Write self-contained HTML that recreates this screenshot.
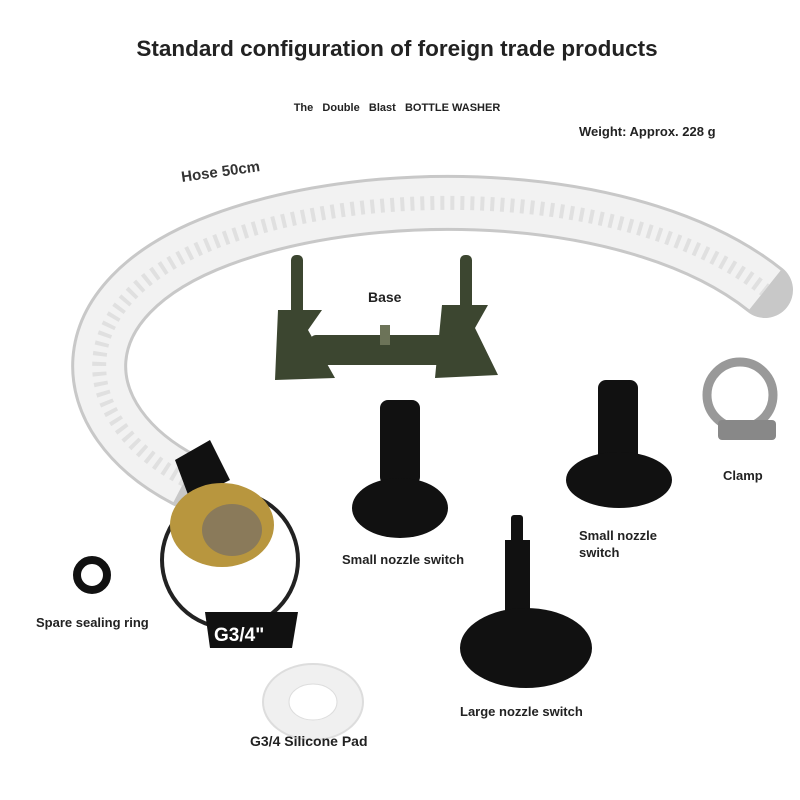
<!DOCTYPE html>
<html><head><style>html,body{margin:0;padding:0;background:#fff}svg{display:block}</style></head><body>
<svg width="800" height="800" viewBox="0 0 800 800" xmlns="http://www.w3.org/2000/svg" font-family="Liberation Sans, sans-serif">
<rect width="800" height="800" fill="#fff"/>
<text x="397" y="56" text-anchor="middle" font-size="22.5" font-weight="bold" fill="#222">Standard configuration of foreign trade products</text>
<text x="397" y="111" text-anchor="middle" font-size="11" font-weight="bold" fill="#222" xml:space="preserve">The   Double   Blast   BOTTLE WASHER</text>
<text x="579" y="136" font-size="13" font-weight="bold" fill="#222">Weight: Approx. 228 g</text>
<text x="182" y="182" font-size="15" font-weight="bold" fill="#333" transform="rotate(-8 182 182)">Hose 50cm</text>
<!-- hose -->
<path d="M185 480 C 70 420, 60 300, 220 240 C 380 180, 640 190, 765 290" fill="none" stroke="#c8c8c8" stroke-width="56" stroke-linecap="round"/>
<path d="M185 480 C 70 420, 60 300, 220 240 C 380 180, 640 190, 765 290" fill="none" stroke="#f2f2f2" stroke-width="50"/>
<path d="M185 480 C 70 420, 60 300, 220 240 C 380 180, 640 190, 765 290" fill="none" stroke="#e0e0e0" stroke-width="14" stroke-dasharray="4 6"/>
<!-- base -->
<g fill="#3c4630">
<rect x="291" y="255" width="12" height="60" rx="5"/>
<rect x="460" y="255" width="12" height="60" rx="5"/>
<path d="M278 310 L322 310 L308 330 L335 378 L275 380 Z"/>
<path d="M442 305 L488 305 L475 328 L498 375 L435 378 Z"/>
<rect x="310" y="335" width="145" height="30" rx="6"/>
<rect x="380" y="325" width="10" height="20" fill="#6c7358"/>
</g>
<text x="368" y="302" font-size="14" font-weight="bold" fill="#222">Base</text>
<!-- clamp -->
<ellipse cx="740" cy="395" rx="33" ry="33" fill="none" stroke="#999" stroke-width="9"/>
<rect x="718" y="420" width="58" height="20" rx="4" fill="#888"/>
<text x="723" y="480" font-size="13" font-weight="bold" fill="#222">Clamp</text>
<!-- small nozzle 1 -->
<g fill="#111">
<rect x="380" y="400" width="40" height="85" rx="8"/>
<ellipse cx="400" cy="508" rx="48" ry="30"/>
</g>
<text x="342" y="564" font-size="13" font-weight="bold" fill="#222">Small nozzle switch</text>
<!-- small nozzle 2 -->
<g fill="#111">
<rect x="598" y="380" width="40" height="85" rx="8"/>
<ellipse cx="619" cy="480" rx="53" ry="28"/>
</g>
<text x="579" y="540" font-size="13" font-weight="bold" fill="#222">Small nozzle</text>
<text x="579" y="557" font-size="13" font-weight="bold" fill="#222">switch</text>
<!-- large nozzle -->
<g fill="#111">
<rect x="511" y="515" width="12" height="30" rx="3"/>
<rect x="505" y="540" width="25" height="80"/>
<ellipse cx="526" cy="648" rx="66" ry="40"/>
</g>
<text x="460" y="716" font-size="13" font-weight="bold" fill="#222">Large nozzle switch</text>
<!-- fitting -->
<path d="M175 460 L210 440 L230 480 L190 500 Z" fill="#111"/>
<circle cx="230" cy="560" r="68" fill="#fff" stroke="#222" stroke-width="4"/>
<ellipse cx="222" cy="525" rx="52" ry="42" fill="#b8963e"/>
<ellipse cx="232" cy="530" rx="30" ry="26" fill="#8a7a5a"/>
<path d="M205 612 L298 612 L292 648 L210 648 Z" fill="#111"/>
<text x="214" y="641" font-size="19" font-weight="bold" fill="#fff">G3/4"</text>
<!-- o-ring -->
<circle cx="92" cy="575" r="15" fill="none" stroke="#111" stroke-width="8"/>
<text x="36" y="627" font-size="13" font-weight="bold" fill="#222">Spare sealing ring</text>
<!-- pad -->
<ellipse cx="313" cy="702" rx="50" ry="38" fill="#f0f0f0" stroke="#ddd" stroke-width="2"/>
<ellipse cx="313" cy="702" rx="24" ry="18" fill="#fff" stroke="#ddd"/>
<text x="250" y="746" font-size="14" font-weight="bold" fill="#222">G3/4 Silicone Pad</text>
</svg>
</body></html>
